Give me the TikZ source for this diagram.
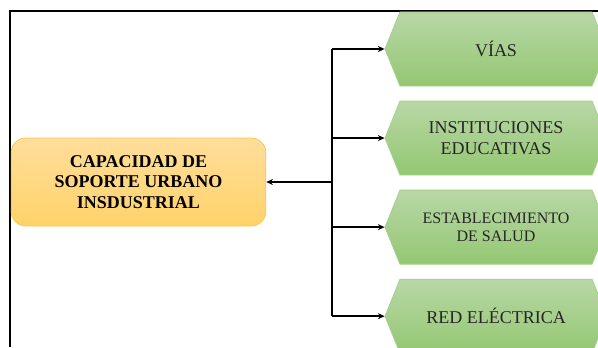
\documentclass[tikz,border=0pt]{standalone}
\usepackage{fontspec}
\setmainfont{Liberation Serif}
\usetikzlibrary{arrows.meta,positioning,shapes.symbols}
\definecolor{coreTop}{RGB}{255,222,155}
\definecolor{coreBot}{RGB}{255,210,105}
\definecolor{coreLine}{RGB}{255,200,70}
\definecolor{itemTop}{RGB}{184,215,166}
\definecolor{itemBot}{RGB}{148,199,114}
\definecolor{itemLine}{RGB}{165,208,138}

\begin{document}
\begin{tikzpicture}[
  x=0.75pt, y=0.75pt,
  node distance=10.7pt,
  core/.style={draw=coreLine, rounded corners=11pt, minimum width=191pt, minimum height=66pt, top color=coreTop, bottom color=coreBot, font=\bfseries\fontsize{13.5}{15.5}\selectfont, align=center, line width=0.6pt},
  item/.style={signal, signal to=west and east, signal pointer angle=136, draw=itemLine, line width=0.6pt, minimum width=166.5pt, minimum height=55.5pt, top color=itemTop, bottom color=itemBot, text=black!85, align=center, font=\fontsize{13.5}{15.5}\selectfont},
  arr/.style={-{Stealth[length=5pt,width=4.5pt]}, line width=1.4pt},
  frame/.style={line width=1.6pt},
]
\useasboundingbox (0,0) rectangle (598,347);
\clip (0,0) rectangle (598,347);

% --- Frame ---
\draw[frame] (10,0) -- (10,336) -- (598,336);

% --- Main box ---
\node[core] (core) at (138.5,165) {CAPACIDAD DE\\SOPORTE URBANO\\INSDUSTRIAL};

% --- Components ---
\node[item] (vias) at (496,298) {VÍAS};
\node[item, below=of vias] (educ) {INSTITUCIONES\\EDUCATIVAS};
\node[item, below=of educ, font=\fontsize{12}{14}\selectfont] (salud) {ESTABLECIMIENTO\\DE SALUD};
\node[item, below=of salud] (red) {RED ELÉCTRICA};

% --- Connectors ---
\coordinate (hub) at (332,165);
\draw[line width=1.4pt] (hub |- vias.west) -- (hub |- red.west);
\draw[arr] (hub) -- (core.east);
\foreach \n in {vias,educ,salud,red}
  \draw[arr] (hub |- \n.west) -- (\n.west);
\end{tikzpicture}
\end{document}
